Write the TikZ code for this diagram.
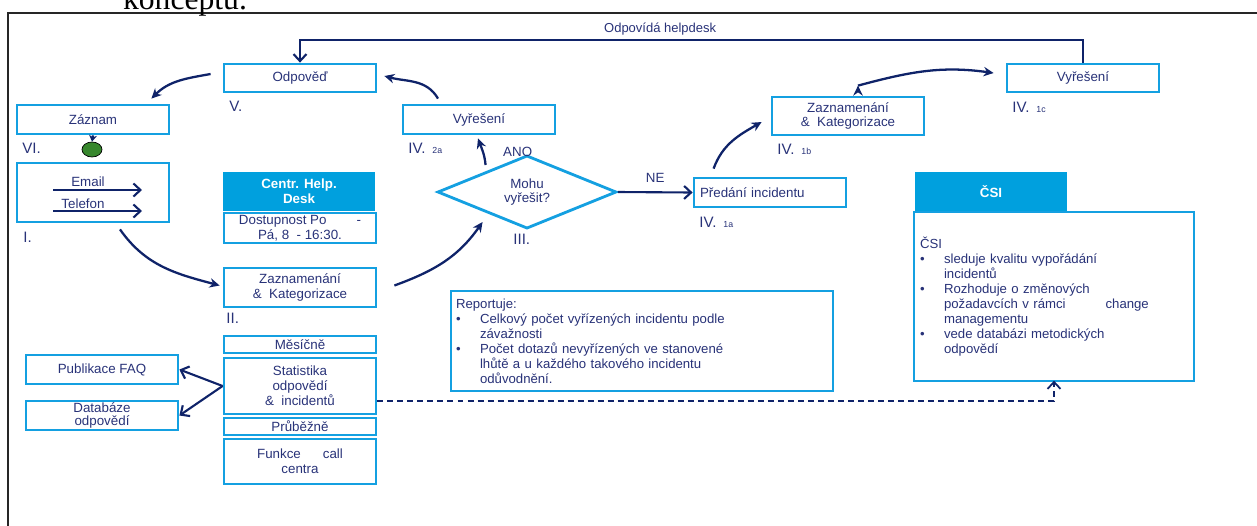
\documentclass[tikz,border=0pt]{standalone}
\usepackage{fontspec}
\setmainfont{Liberation Sans}
\newfontfamily\serifrm{Liberation Serif}
\usetikzlibrary{shapes.geometric,arrows.meta}

\definecolor{boxcyan}{RGB}{20,160,225}
\definecolor{headfill}{RGB}{0,160,222}
\definecolor{txtnavy}{RGB}{40,50,120}
\definecolor{arrnavy}{RGB}{15,35,105}
\definecolor{dotgreen}{RGB}{55,135,45}

\newcommand\bxfont{\fontsize{7.6}{8.4}\selectfont}
\newcommand\rmnfont{\fontsize{8.6}{10}\selectfont}
\newcommand\subfnt{\fontsize{5}{6}\selectfont}
\newcommand\repfont{\fontsize{7.5}{8.5}\selectfont}
\newcommand\bul{\makebox[0.48cm][l]{\textbullet}}
\newcommand\bulind{\hspace*{0.48cm}}

\begin{document}
\begin{tikzpicture}[x=0.02cm, y=-0.02cm, >={Stealth[length=2mm,width=1.9mm]},
  box/.style={draw=boxcyan, line width=1.6pt, minimum width=3.04cm, inner sep=1pt, font=\bxfont, text=txtnavy, align=center},
  head/.style={fill=headfill, minimum width=3.04cm, minimum height=0.78cm, inner sep=1pt, font=\bxfont\bfseries, text=white, align=center},
  num/.style={anchor=west, inner sep=0pt, font=\rmnfont, text=txtnavy},
  lbl/.style={inner sep=1pt, font=\bxfont, text=txtnavy},
  flow/.style={->, draw=arrnavy, line width=1.3pt},
  openarr/.style={-{Straight Barb[length=1.4mm,width=2.6mm]}, draw=arrnavy, line width=1.2pt},
  dashline/.style={dash pattern=on 3.4pt off 2.3pt}]
  \useasboundingbox (0,0) rectangle (1257,525);
  % frame and caption cut off at the top
  \draw[black!85, line width=0.8pt] (1257,13) -- (8,13) -- (8,530);
  \node[anchor=base, inner sep=0pt, font=\serifrm\fontsize{18}{20}\selectfont] (capt) at (185,9) {konceptu.};

  % left column
  \node[box, minimum height=0.56cm] (odp) at (300,78) {Odpověď};
  \node[num] (lV) at (229,106) {V.};
  \node[box, minimum height=0.58cm] (zaz) at (93,119.5) {Záznam};
  \node[num] (lVI) at (22,148) {VI.};
  \node[ellipse, draw=black, thin, fill=dotgreen, minimum width=0.4cm, minimum height=0.3cm, inner sep=0pt] (dot) at (92,149.5) {};
  \node[box, minimum height=1.18cm] (kanaly) at (93,192.5) {};
  \node[lbl] (email) at (88,182) {Email};
  \node[lbl] (tel) at (83,204) {Telefon};
  \coordinate (ema) at (53,190); \coordinate (emb) at (142,190);
  \coordinate (tela) at (53,211); \coordinate (telb) at (142,211);
  \node[num] (lI) at (23,237) {I.};

  \node[head] (chd) at (299,191.5) {Centr. Help.\\Desk};
  \node[box, minimum height=0.6cm] (dost) at (300,228) {Dostupnost Po\hspace{0.6cm}-\\Pá, 8\ \ - 16:30.};
  \node[box, minimum height=0.78cm] (zkII) at (300,287.5) {Zaznamenání\\\&\ \ Kategorizace};
  \node[num] (lII) at (226,318) {II.};
  \node[box, minimum height=0.34cm] (mes) at (300,344.5) {Měsíčně};
  \node[box, minimum height=1.12cm, font=\fontsize{7.6}{8.5}\selectfont] (stat) at (300,386) {Statistika\\odpovědí\\\&\ \ incidentů};
  \node[box, minimum height=0.34cm] (prub) at (300,426.5) {Průběžně};
  \node[box, minimum height=0.9cm] (fce) at (300,461.5) {Funkce\hspace{0.44cm}call\\centra};
  \node[box, minimum height=0.58cm] (faq) at (102,369.5) {Publikace FAQ};
  \node[box, minimum height=0.58cm, font=\fontsize{7.6}{7.4}\selectfont] (db) at (102,415.5) {Databáze\\odpovědí};

  % middle
  \node[box, minimum height=0.58cm] (vyra) at (479,119.5) {Vyřešení};
  \node[num] (lIVa) at (408,148) {IV.\hspace{4pt}{\subfnt 2a}};
  \node[diamond, draw=boxcyan, line width=1.6pt, minimum width=3.58cm, minimum height=1.44cm, inner sep=0pt, font=\bxfont, text=txtnavy, align=center] (dia) at (527,192) {Mohu\\vyřešit?};
  \node[num] (lIII) at (513,239) {III.};
  \node[box, minimum width=7.64cm, minimum height=2cm, text width=7.44cm, align=left, font=\repfont] (rep) at (642,341) {Reportuje:\\
    \bul Celkový počet vyřízených incidentu podle\\
    \bulind závažnosti\\
    \bul Počet dotazů nevyřízených ve stanovené\\
    \bulind lhůtě a u každého takového incidentu\\
    \bulind odůvodnění.};

  % right part
  \node[box, minimum height=0.58cm, text width=2.8cm, align=left] (pred) at (770,192.5) {Předání incidentu};
  \node[num] (lIVb) at (699,222) {IV.\hspace{4pt}{\subfnt 1a}};
  \node[box, minimum height=0.76cm] (zkb) at (848,116) {Zaznamenání\\\&\ \ Kategorizace};
  \node[num] (lIVc) at (777,149) {IV.\hspace{4pt}{\subfnt 1b}};
  \node[box, minimum height=0.56cm] (vyrc) at (1083,78) {Vyřešení};
  \node[num] (lIVd) at (1012,107) {IV.\hspace{4pt}{\subfnt 1c}};
  \node[head] (csih) at (991,191.5) {ČSI};
  \node[box, minimum width=5.6cm, minimum height=3.38cm, text width=5.36cm, align=left, font=\repfont] (csi) at (1054,296.5) {ČSI\\
    \bul sleduje kvalitu vypořádání\\
    \bulind incidentů\\
    \bul Rozhoduje o změnových\\
    \bulind požadavcích v rámci\hspace{0.8cm}change\\
    \bulind managementu\\
    \bul vede databázi metodických\\
    \bulind odpovědí};

  % connectors
  \path[flow]
    ([shift={(-12,-4)}]odp.west) edge [out=190, in=45] ([shift={(-19,-5)}]zaz.north east)
    ([shift={(-41,-5)}]vyra.north) edge [out=120, in=-15] ([shift={(7,-2)}]odp.east)
    ([shift={(4,-8)}]dia.north west) edge [out=95, in=-70] node[pos=0.5, right=0.35cm, lbl] {ANO} ([shift={(-1,3)}]vyra.south)
    ([shift={(17,-2)}]zkII.east) edge [out=20, in=-125] ([shift={(1,11)}]dia.south west)
    ([shift={(27,6)}]kanaly.south) edge [out=-55, in=165] ([shift={(-3,-2)}]zkII.west)
    ([shift={(21,-8)}]pred.north west) edge [out=70, in=-150] ([shift={(-9,6)}]zkb.west)
    ([shift={(10,-10)}]zkb.north) edge [out=15, in=172] ([shift={(-12,-5)}]vyrc.west)
    ;
  \draw[-{Stealth[length=1.3mm,width=1.6mm]}, draw=arrnavy, line width=1.2pt] (zaz.south) -- (dot.north);
  \draw[openarr] (ema) -- (emb);
  \draw[openarr] (tela) -- (telb);
  \draw[openarr] (dia.east) -- node[above=4pt, lbl] {NE} (pred.west);
  \draw[openarr] (stat.west) -- (faq.east);
  \draw[openarr] (stat.west) -- (db.east);
  \draw[openarr] (vyrc.north) -- ++(0,-23) -| node[pos=0.27, above=1pt, lbl, font=\fontsize{7.4}{9}\selectfont] {Odpovídá helpdesk} (odp.north);
  \draw[openarr, dashline, line width=1pt] ([shift={(0,15)}]stat.east) -| ([yshift=1pt]csi.south);
\end{tikzpicture}
\end{document}
